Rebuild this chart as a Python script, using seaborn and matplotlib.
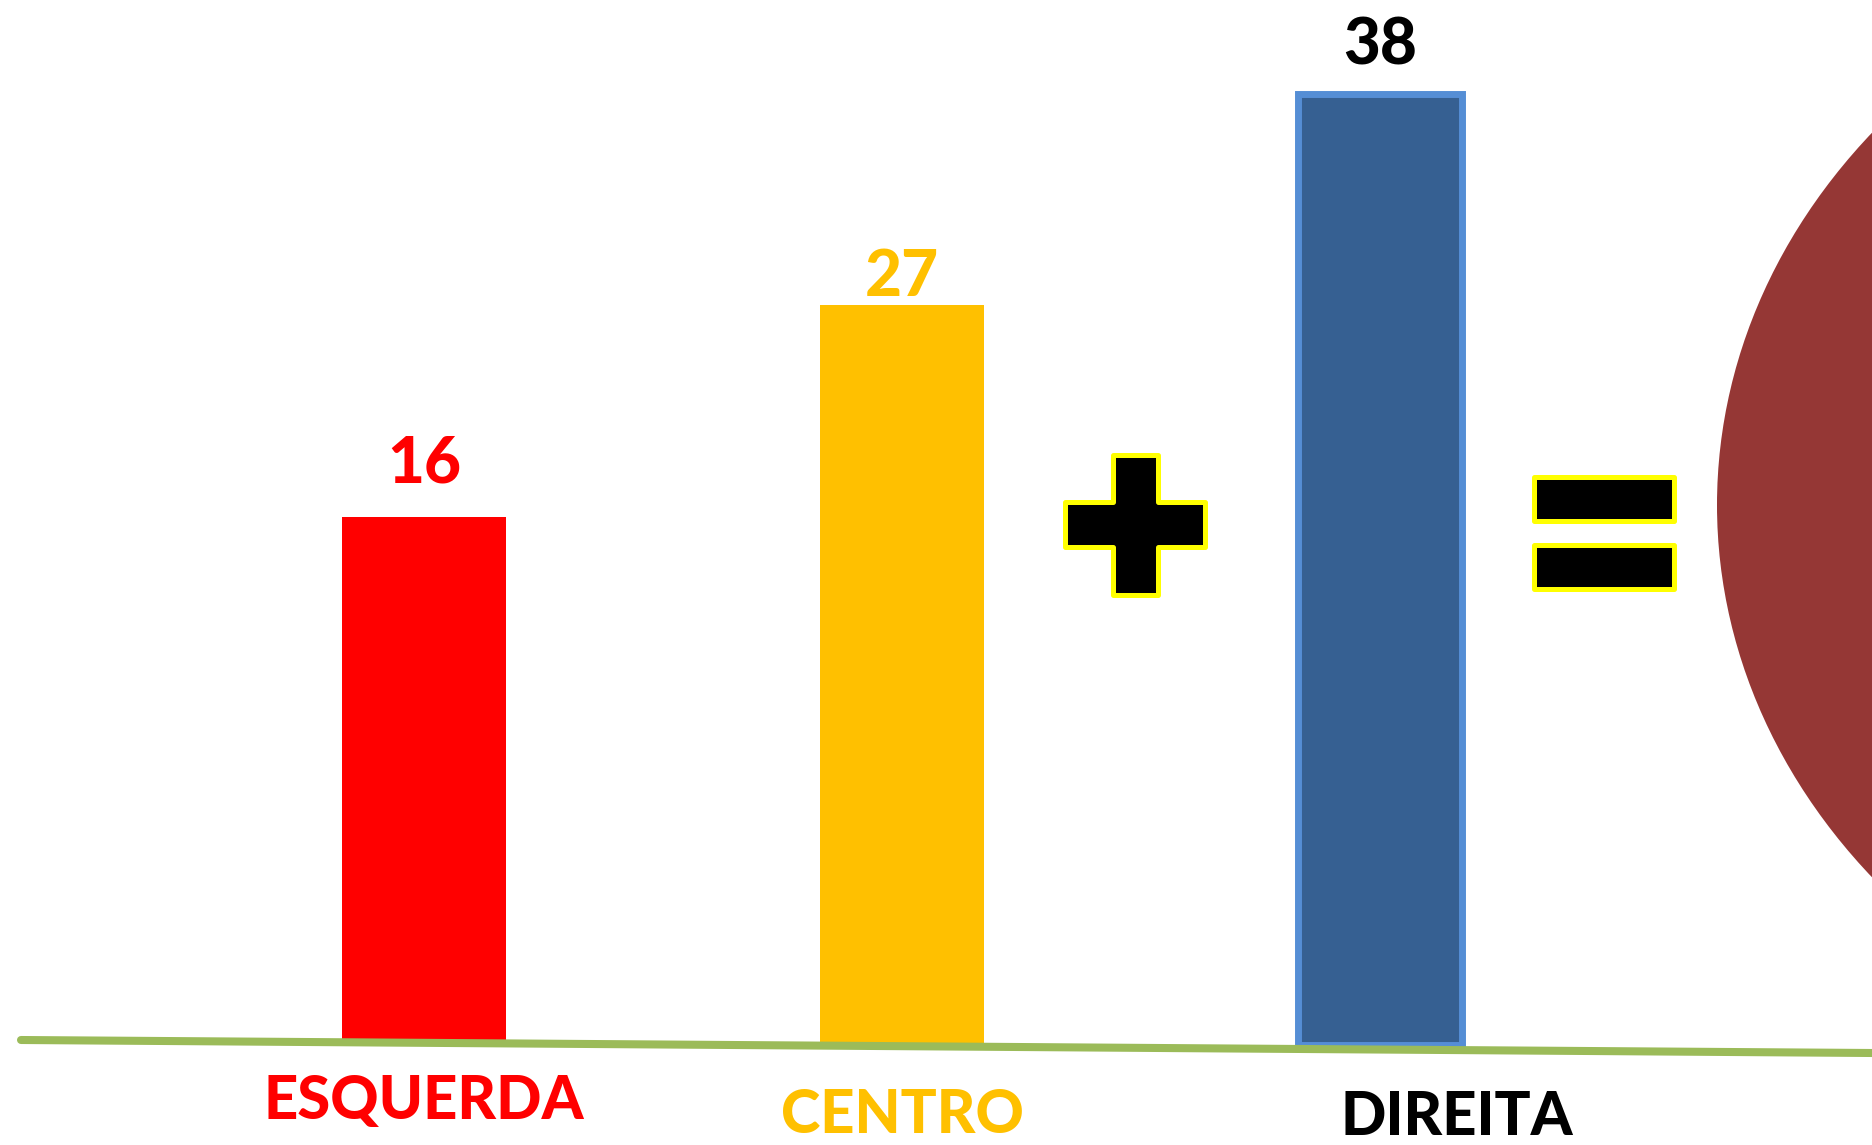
import matplotlib
matplotlib.use("Agg")
import matplotlib.pyplot as plt
import seaborn as sns
from matplotlib.patches import Polygon, Rectangle, Ellipse
from matplotlib.lines import Line2D

# =========================================================
# DATA
# =========================================================
categories = ["ESQUERDA", "CENTRO", "DIREITA"]
values = [16, 27, 38]
bar_colors = ["#FF0000", "#FFC000", "#366092"]
text_colors = ["#FF0000", "#FFC000", "#000000"]

# =========================================================
# LAYOUT (pixels of the 1872x1145 canvas)
# =========================================================
W, H = 1872, 1145
BASE = -11.47          # value where the bars start
PX_PER_UNIT = 19.23
BASE_PX = 1045
label_dx = [0.0, 0.0, 0.16]
label_drop = [2.9, 3.65, 3.75]
value_offset = [38, 20, 34]


def fx(x):
    return x / W


def fy(y):
    return 1 - y / H


sns.set_theme(style="white")
plt.rcParams["font.family"] = ["Lato", "DejaVu Sans"]

fig = plt.figure(figsize=(W / 100, H / 100), dpi=100)
ax = fig.add_axes([0, 0, 1, 1])

# =========================================================
# BARS
# =========================================================
sns.barplot(x=categories, y=values, hue=categories, palette=bar_colors,
            legend=False, width=0.345, saturation=1, ax=ax)

for p, v in zip(ax.patches, values):
    p.set_y(BASE)
    p.set_height(v - BASE)
    p.set_linewidth(0)

ax.patches[2].set_edgecolor("#558ED5")
ax.patches[2].set_linewidth(5)

ax.set_xlim(-424 / 478, (W - 424) / 478)
ax.set_ylim(BASE - (H - BASE_PX) / PX_PER_UNIT, BASE + BASE_PX / PX_PER_UNIT)
ax.set_axis_off()

# value labels
for i, (v, c) in enumerate(zip(values, text_colors)):
    ax.annotate(str(v), (i, v), xytext=(0, value_offset[i]), textcoords="offset points",
                ha="center", va="center", fontsize=46, fontweight=900, color=c)

# category labels
for i, (cat, c) in enumerate(zip(categories, text_colors)):
    ax.text(i + label_dx[i], BASE - label_drop[i], cat, ha="center", va="center",
            fontsize=43, fontweight=900, color=c)

# =========================================================
# DECORATIONS
# =========================================================
# green baseline
ax.add_line(Line2D([fx(21), fx(1872)], [fy(1040), fy(1053)], transform=fig.transFigure,
                   color="#9BBB59", lw=5.8, solid_capstyle="round", zorder=5))

# plus sign
L, l, r, R = 1064.5, 1112.5, 1157.5, 1204.5
T, t, b, B = 454.5, 501.5, 546.5, 594.5
plus_pts = [(l, T), (r, T), (r, t), (R, t), (R, b), (r, b), (r, B),
            (l, B), (l, b), (L, b), (L, t), (l, t)]
ax.add_patch(Polygon([(fx(x), fy(y)) for x, y in plus_pts], closed=True,
                     transform=fig.transFigure, facecolor="black",
                     edgecolor="#FFFF00", lw=3.6, joinstyle="round", zorder=4))

# equals sign
for top in [476.5, 544.5]:
    ax.add_patch(Rectangle((fx(1533.5), fy(top + 44)), 140 / W, 44 / H,
                           transform=fig.transFigure, facecolor="black",
                           edgecolor="#FFFF00", lw=3.6, joinstyle="round", zorder=4))

# big ellipse on the right
ax.add_patch(Ellipse((fx(2411), fy(505)), 1388 / W, 1182 / H,
                     transform=fig.transFigure, facecolor="#953735",
                     edgecolor="none", zorder=3))

fig.savefig("out.png", dpi=100, facecolor="white")
